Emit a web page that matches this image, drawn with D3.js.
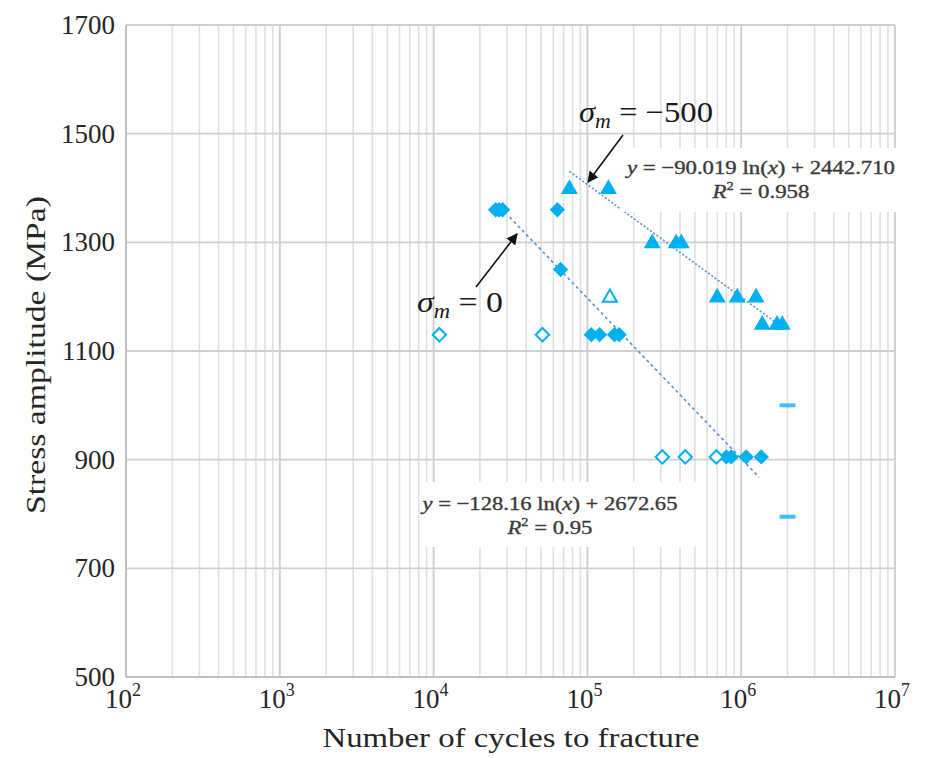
<!DOCTYPE html>
<html>
<head>
<meta charset="utf-8">
<script src="https://cdn.jsdelivr.net/npm/d3@7"></script>
<style>
  html, body { margin: 0; padding: 0; background: #fff; }
  svg { display: block; }
  .tick-label { font-family: "Liberation Serif", "Times New Roman", serif; fill: #262626; }
  .eq { font-family: "Liberation Serif", "Times New Roman", serif; fill: #3a3a3a; stroke: #3a3a3a; stroke-width: 0.35; }
</style>
</head>
<body>
<svg id="chart" width="931" height="758"></svg>
<script>
// Stress-life data, mean stress 0 MPa (filled = fractured, open = excluded from fit)
const s0FailCycles  = [25300, 26600, 28100, 63800, 66900, 106000, 120000, 150000, 161000, 800000, 861000, 1077000, 1350000];
const s0FailStress  = [1360, 1360, 1360, 1360, 1250, 1130, 1130, 1130, 1130, 905, 905, 905, 905];
const s0OpenCycles  = [10900, 51000, 307000, 433000, 689000];
const s0OpenStress  = [1130, 1130, 905, 905, 905];

// Mean stress -500 MPa
const s500FailCycles = [76400, 137000, 264000, 378000, 408000, 698000, 942000, 1250000, 1370000, 1710000, 1850000];
const s500FailStress = [1400, 1400, 1300, 1300, 1300, 1200, 1200, 1200, 1150, 1150, 1150];
const s500OpenCycles = [140000];
const s500OpenStress = [1200];

// Run-outs
const runoutCycles = [2000000, 2000000];
const runoutStress = [1000, 795];

// Logarithmic fits: stress = a ln(N) + b, drawn between the given cycle limits
const fitNames  = ["sigma0", "sigma500"];
const fitSlope  = [-128.16, -90.019];
const fitInter  = [2672.65, 2442.710];
const fitFrom   = [31200, 76400];
const fitTo     = [1310000, 1850000];
const fitLabel1 = ["y = −128.16 ln(x) + 2672.65", "y = −90.019 ln(x) + 2442.710"];
const fitLabel2 = ["0.95", "0.958"];

// Axis ticks
const xTickExp = [2, 3, 4, 5, 6, 7];
const yTicks = [500, 700, 900, 1100, 1300, 1500, 1700];

const svg = d3.select("#chart");
const plotL = 126, plotR = 895, plotT = 25, plotB = 677;

const x = d3.scaleLog().domain([1e2, 1e7]).range([plotL, plotR]);
const y = d3.scaleLinear().domain([500, 1700]).range([plotB, plotT]);

const blue = "#00b0f0";

// Minor vertical gridlines (2..9 within each decade)
const minor = [];
for (let e = 2; e < 7; e++) for (let k = 2; k <= 9; k++) minor.push(k * Math.pow(10, e));
svg.append("g").selectAll("line").data(minor).join("line")
  .attr("x1", d => x(d)).attr("x2", d => x(d))
  .attr("y1", plotT).attr("y2", plotB)
  .attr("stroke", "#e0e0e0").attr("stroke-width", 1.6);

// Decade gridlines
svg.append("g").selectAll("line").data(xTickExp).join("line")
  .attr("x1", d => x(Math.pow(10, d))).attr("x2", d => x(Math.pow(10, d)))
  .attr("y1", plotT).attr("y2", plotB)
  .attr("stroke", "#cccccc").attr("stroke-width", 1.8);

// Horizontal gridlines
svg.append("g").selectAll("line").data(yTicks).join("line")
  .attr("x1", plotL).attr("x2", plotR)
  .attr("y1", d => y(d)).attr("y2", d => y(d))
  .attr("stroke", "#cfcfcf").attr("stroke-width", 1.8);

// Axis lines
svg.append("line").attr("x1", plotL).attr("x2", plotL).attr("y1", plotT).attr("y2", plotB)
  .attr("stroke", "#bfbfbf").attr("stroke-width", 2);
svg.append("line").attr("x1", plotL).attr("x2", plotR).attr("y1", plotB).attr("y2", plotB)
  .attr("stroke", "#bfbfbf").attr("stroke-width", 2);

// Y tick labels
svg.append("g").selectAll("text").data(yTicks).join("text")
  .attr("class", "tick-label")
  .attr("x", 115).attr("y", d => y(d) + 9)
  .attr("text-anchor", "end").attr("font-size", 27)
  .text(d => d);

// X tick labels as powers of ten
const xl = svg.append("g").selectAll("text").data(xTickExp).join("text")
  .attr("class", "tick-label")
  .attr("x", d => x(Math.pow(10, d)) - 3).attr("y", 708)
  .attr("text-anchor", "middle").attr("font-size", 27);
xl.append("tspan").text("10");
xl.append("tspan").attr("font-size", 18).attr("dy", -12).text(d => d);

// Axis titles
svg.append("text").attr("class", "tick-label")
  .attr("x", 511).attr("y", 747).attr("text-anchor", "middle").attr("font-size", 28)
  .attr("textLength", 377).attr("lengthAdjust", "spacingAndGlyphs")
  .text("Number of cycles to fracture");
svg.append("text").attr("class", "tick-label")
  .attr("transform", "translate(45,355) rotate(-90)")
  .attr("text-anchor", "middle").attr("font-size", 28)
  .attr("textLength", 318).attr("lengthAdjust", "spacingAndGlyphs")
  .text("Stress amplitude (MPa)");

// Fit lines
const fitColor = "#5b8fd6";
fitNames.forEach((n, i) => {
  const pts = d3.range(0, 41).map(j => {
    const N = Math.exp(Math.log(fitFrom[i]) + (Math.log(fitTo[i]) - Math.log(fitFrom[i])) * j / 40);
    return [N, fitSlope[i] * Math.log(N) + fitInter[i]];
  });
  svg.append("path")
    .datum(pts)
    .attr("d", d3.line().x(d => x(d[0])).y(d => y(d[1])))
    .attr("fill", "none").attr("stroke", fitColor)
    .attr("stroke-width", 1.6)
    .attr("stroke-dasharray", i === 0 ? "3,3" : "2,2");
});

// Markers
const diamond = d3.symbol().type(d3.symbolDiamond2).size(150);
const tri = d3.symbol().type(d3.symbolTriangle).size(125);

svg.append("g").selectAll("path").data(d3.zip(s0FailCycles, s0FailStress)).join("path")
  .attr("transform", d => `translate(${x(d[0])},${y(d[1])})`)
  .attr("d", diamond).attr("fill", blue);

svg.append("g").selectAll("path").data(d3.zip(s0OpenCycles, s0OpenStress)).join("path")
  .attr("transform", d => `translate(${x(d[0])},${y(d[1])})`)
  .attr("d", d3.symbol().type(d3.symbolDiamond2).size(115))
  .attr("fill", "#fff").attr("stroke", blue).attr("stroke-width", 2);

svg.append("g").selectAll("path").data(d3.zip(s500FailCycles, s500FailStress)).join("path")
  .attr("transform", d => `translate(${x(d[0])},${y(d[1]) + 1})`)
  .attr("d", tri).attr("fill", blue);

svg.append("g").selectAll("path").data(d3.zip(s500OpenCycles, s500OpenStress)).join("path")
  .attr("transform", d => `translate(${x(d[0])},${y(d[1]) + 1})`)
  .attr("d", d3.symbol().type(d3.symbolTriangle).size(85))
  .attr("fill", "#fff").attr("stroke", blue).attr("stroke-width", 2);

svg.append("g").selectAll("rect").data(d3.zip(runoutCycles, runoutStress)).join("rect")
  .attr("x", d => x(d[0]) - 8).attr("y", d => y(d[1]) - 2)
  .attr("width", 16).attr("height", 4).attr("fill", "#3cc0f2");

// Fit equation boxes
const eqBoxes = [
  { x: 420, y: 482, w: 278, h: 65, cx: 550, b1: 510, b2: 534, w1: 255, w2: 85 },
  { x: 620, y: 148, w: 282, h: 64, cx: 761, b1: 174, b2: 198, w1: 268, w2: 97 }
];
fitNames.forEach((n, i) => {
  const b = eqBoxes[i];
  svg.append("rect").attr("x", b.x).attr("y", b.y).attr("width", b.w).attr("height", b.h).attr("fill", "#fff");
  const t1 = svg.append("text").attr("class", "eq").attr("x", b.cx).attr("y", b.b1)
    .attr("text-anchor", "middle").attr("font-size", 19)
    .attr("textLength", b.w1).attr("lengthAdjust", "spacingAndGlyphs");
  const parts = fitLabel1[i].split(/(y|x)/);
  parts.forEach(p => {
    if (p === "x" || p === "y") t1.append("tspan").attr("font-style", "italic").text(p);
    else t1.append("tspan").text(p);
  });
  const t2 = svg.append("text").attr("class", "eq").attr("x", b.cx).attr("y", b.b2)
    .attr("text-anchor", "middle").attr("font-size", 19)
    .attr("textLength", b.w2).attr("lengthAdjust", "spacingAndGlyphs");
  t2.append("tspan").attr("font-style", "italic").text("R");
  t2.append("tspan").attr("font-size", 12).attr("dy", -8).text("2");
  t2.append("tspan").attr("dy", 8).text(" = " + fitLabel2[i]);
});

// Mean stress annotations with arrows
svg.append("defs").append("marker")
  .attr("id", "arrow").attr("viewBox", "0 0 10 10").attr("refX", 9).attr("refY", 5)
  .attr("markerWidth", 7).attr("markerHeight", 7).attr("orient", "auto")
  .append("path").attr("d", "M0,0 L10,5 L0,10 z").attr("fill", "#111");

const notes = [
  { label: "−500", tx: 579, ty: 122, w: 134, ax1: 623, ay1: 135, ax2: 588, ay2: 182 },
  { label: "0", tx: 417, ty: 312, w: 86, ax1: 476, ay1: 287, ax2: 517, ay2: 234 }
];
notes.forEach(nt => {
  const t = svg.append("text").attr("x", nt.tx).attr("y", nt.ty)
    .attr("font-family", "Liberation Serif, serif").attr("font-size", 30).attr("fill", "#1a1a1a")
    .attr("textLength", nt.w).attr("lengthAdjust", "spacingAndGlyphs");
  t.append("tspan").attr("font-style", "italic").text("σ");
  t.append("tspan").attr("font-style", "italic").attr("font-size", 20).attr("dy", 6).text("m");
  t.append("tspan").attr("dy", -6).text(" = " + nt.label);
  svg.append("line").attr("x1", nt.ax1).attr("y1", nt.ay1).attr("x2", nt.ax2).attr("y2", nt.ay2)
    .attr("stroke", "#111").attr("stroke-width", 1.6).attr("marker-end", "url(#arrow)");
});
</script>
</body>
</html>
